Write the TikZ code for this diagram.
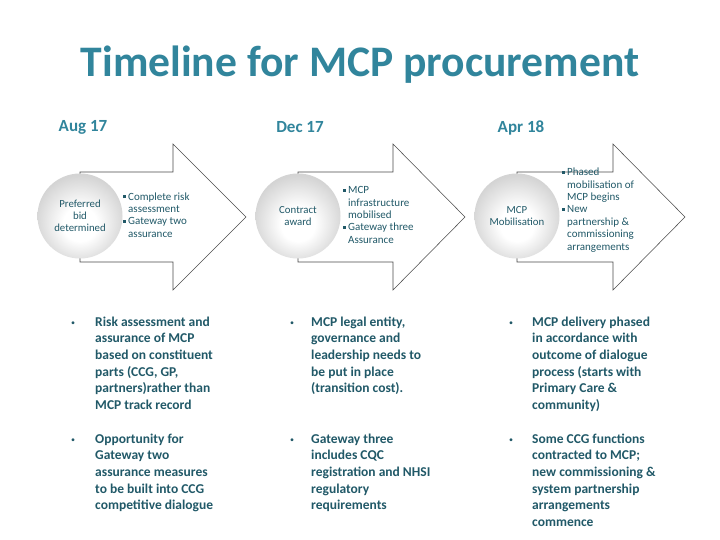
\documentclass[tikz,border=0pt]{standalone}
\usepackage{fontspec}
\setmainfont{Carlito}
\definecolor{tealT}{HTML}{31859C}
\definecolor{tealD}{HTML}{215968}
\pgfdeclareradialshading{sphw}{\pgfpoint{0bp}{-6bp}}{color(0bp)=(white); color(10bp)=(white); color(27bp)=(black!17); color(50bp)=(black!17)}
\newcommand{\sqb}{\makebox[5pt][l]{\rule[2pt]{2.7pt}{2.7pt}}}
\newcommand{\hng}{\hspace*{5pt}}
\begin{document}
\begin{tikzpicture}[x=1pt,y=-1pt,
  arrowshape/.style={draw=black!70, line width=0.55pt, fill=white},
  ball/.style={circle, minimum size=85pt, inner sep=0pt, shading=sphw, align=center,
     text=tealD, font=\fontsize{10.8}{12}\selectfont},
  atext/.style={anchor=north west, inner sep=0pt, align=left, text=tealD,
     font=\fontsize{11}{12.4}\selectfont},
  btext/.style={anchor=north west, inner sep=0pt, align=left, text=tealD,
     font=\fontsize{13.5}{16.65}\selectfont\bfseries},
  bul/.style={anchor=base, inner sep=0pt, text=tealD, font=\fontsize{8}{10}\selectfont},
  datelab/.style={anchor=base, inner sep=0pt, text=tealT, font=\fontsize{17}{20}\selectfont\bfseries}
]
\useasboundingbox (0,0) rectangle (720,540);
\fill[white] (0,0) rectangle (720,540);

% title
\node[anchor=base, inner sep=0pt, text=tealT, font=\fontsize{43.6}{48}\selectfont\bfseries] (title) at (360,77) {Timeline for MCP procurement};

% dates
\node[datelab] (d1) at (83,132) {Aug 17};
\node[datelab] (d2) at (300,133) {Dec 17};
\node[datelab] (d3) at (521,133) {Apr 18};

% arrows
\foreach \L/\H/\T in {80/173/246, 298/393/465, 517/613/685}{
  \draw[arrowshape] (\L,172) -- (\H,172) -- (\H,144) -- (\T,217) -- (\H,290) -- (\H,262) -- (\L,262) -- cycle;
}

% circles
\node[ball] (c1) at (80,216) {Preferred\\bid\\determined};
\node[ball] (c2) at (298,216) {Contract\\award};
\node[ball] (c3) at (517,216) {MCP\\Mobilisation};

% arrow texts
\node[atext] (a1) at (123,191.3) {\strut\sqb Complete risk\\ \hng assessment\\ \sqb Gateway two\\ \hng assurance};
\node[atext] (a2) at (343,184.8) {\strut\sqb MCP\\ \hng infrastructure\\ \hng mobilised\\ \sqb Gateway three\\ \hng Assurance};
\node[atext] (a3) at (562,166.8) {\strut\sqb Phased\\ \hng mobilisation of\\ \hng MCP begins\\ \sqb New\\ \hng partnership \&\\ \hng commissioning\\ \hng arrangements};

% bottom bullets column 1
\node[bul] (b11) at (73,325) {•};
\node[btext] (t11) at (95,314.3) {\strut Risk assessment and\\ assurance of MCP\\ based on constituent\\ parts (CCG, GP,\\ partners)rather than\\ MCP track record};
\node[bul] (b12) at (73,442) {•};
\node[btext] (t12) at (95,431.3) {\strut Opportunity for\\ Gateway two\\ assurance measures\\ to be built into CCG\\ competitive dialogue};

% column 2
\node[bul] (b21) at (292,325) {•};
\node[btext] (t21) at (311,314.3) {\strut MCP legal entity,\\ governance and\\ leadership needs to\\ be put in place\\ (transition cost).};
\node[bul] (b22) at (292,442) {•};
\node[btext] (t22) at (311,431.3) {\strut Gateway three\\ includes CQC\\ registration and NHSI\\ regulatory\\ requirements};

% column 3
\node[bul] (b31) at (511,325) {•};
\node[btext] (t31) at (532,314.3) {\strut MCP delivery phased\\ in accordance with\\ outcome of dialogue\\ process (starts with\\ Primary Care \&\\ community)};
\node[bul] (b32) at (511,442) {•};
\node[btext] (t32) at (532,431.3) {\strut Some CCG functions\\ contracted to MCP;\\ new commissioning \&\\ system partnership\\ arrangements\\ commence};
\end{tikzpicture}
\end{document}
